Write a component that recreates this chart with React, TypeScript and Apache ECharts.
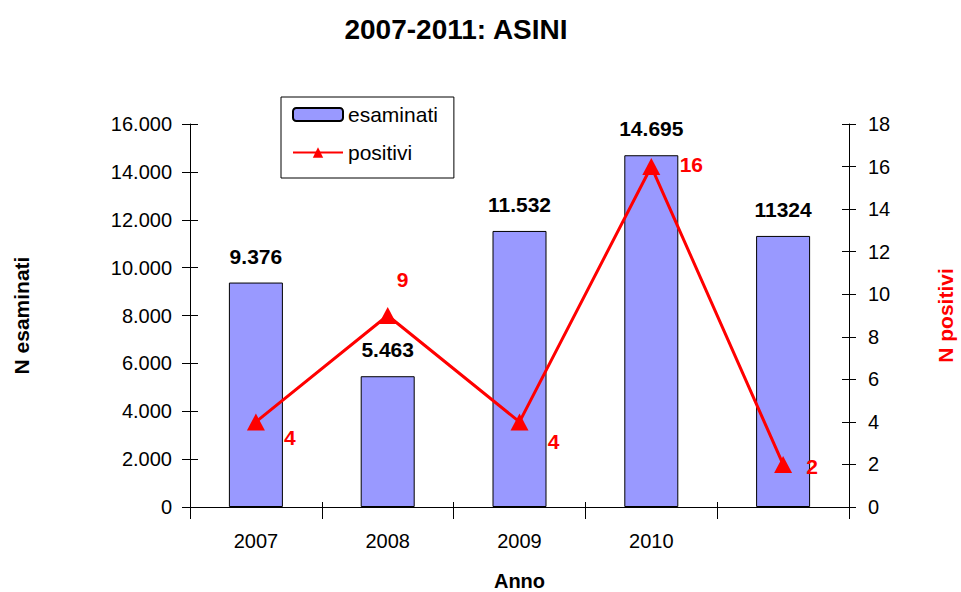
import React, { useEffect, useRef } from "react";
import * as echarts from "echarts";

const categories = ["2007", "2008", "2009", "2010", ""];
const esaminati = [9376, 5463, 11532, 14695, 11324];
const esaminatiLabels = ["9.376", "5.463", "11.532", "14.695", "11324"];
const positivi = [4, 9, 4, 16, 2];
const positiviOffsets = [[34, 16], [15, -36], [34, 20], [40, -2], [29, 2]];

function fmtThousands(v: number): string {
  return String(v).replace(/\B(?=(\d{3})+(?!\d))/g, ".");
}

export default function App() {
  const ref = useRef<HTMLDivElement>(null);
  useEffect(() => {
    if (!ref.current) return;
    const chart = echarts.init(ref.current, null, { renderer: "svg", width: 961, height: 592 });
    const font = "Liberation Sans, Arial, sans-serif";
    const black = "#000";
    chart.setOption({
      animation: false,
      backgroundColor: "#ffffff",
      textStyle: { fontFamily: font },
      title: {
        text: "2007-2011: ASINI",
        left: 451,
        top: 10,
        textAlign: "center",
        textStyle: { fontSize: 28, fontWeight: "bold", color: black, fontFamily: font },
      },
      legend: {
        orient: "vertical",
        left: 281,
        top: 97,
        borderColor: black,
        borderWidth: 1,
        padding: [7, 16, 15, 11],
        itemGap: 17,
        itemWidth: 50,
        itemHeight: 13,
        textStyle: { fontSize: 21, color: black, fontFamily: font },
        data: ["esaminati", "positivi"],
      },
      grid: { left: 190, right: 112, top: 124, bottom: 85, containLabel: false, outerBoundsMode: "none" },
      xAxis: [
        {
          type: "category",
          data: categories,
          name: "Anno",
          nameLocation: "middle",
          nameGap: 64,
          nameTextStyle: { fontSize: 20, lineHeight: 20, fontWeight: "bold", color: black, fontFamily: font },
          axisLine: { lineStyle: { color: black, width: 1 } },
          axisTick: { show: true, interval: 0, length: 12, lineStyle: { color: black } },
          axisLabel: { fontSize: 20, color: black, margin: 24, interval: 0, fontFamily: font },
        },
        {
          type: "category",
          data: categories,
          position: "bottom",
          axisLine: { show: false },
          axisTick: { show: true, inside: true, interval: 0, length: 5, lineStyle: { color: black } },
          axisLabel: { show: false },
        },
      ],
      yAxis: [
        {
          type: "value",
          min: 0,
          max: 16000,
          interval: 2000,
          position: "left",
          name: "N esaminati",
          nameLocation: "middle",
          nameGap: 158,
          nameRotate: 90,
          nameTextStyle: { fontSize: 21, fontWeight: "bold", color: black, fontFamily: font },
          axisLine: { show: true, lineStyle: { color: black } },
          axisTick: { show: true, length: 8, lineStyle: { color: black } },
          axisLabel: { fontSize: 20, color: black, margin: 18, formatter: (v: number) => fmtThousands(v), fontFamily: font },
          splitLine: { show: false },
        },
        {
          type: "value",
          min: 0,
          max: 18,
          interval: 2,
          position: "right",
          name: "N positivi",
          nameLocation: "middle",
          nameGap: 86,
          nameRotate: 90,
          nameTextStyle: { fontSize: 21, fontWeight: "bold", color: "#ff0000", fontFamily: font },
          axisLine: { show: true, lineStyle: { color: black } },
          axisTick: { show: true, length: 7, lineStyle: { color: black } },
          axisLabel: { fontSize: 20, color: black, margin: 19, fontFamily: font },
          splitLine: { show: false },
        },
        {
          type: "value",
          min: 0,
          max: 16000,
          interval: 2000,
          position: "left",
          axisLine: { show: false },
          axisTick: { show: true, inside: true, length: 8, lineStyle: { color: black } },
          axisLabel: { show: false },
          splitLine: { show: false },
        },
        {
          type: "value",
          min: 0,
          max: 18,
          interval: 2,
          position: "right",
          axisLine: { show: false },
          axisTick: { show: true, inside: true, length: 7, lineStyle: { color: black } },
          axisLabel: { show: false },
          splitLine: { show: false },
        },
      ],
      series: [
        {
          name: "esaminati",
          type: "bar",
          yAxisIndex: 0,
          data: esaminati,
          barWidth: 54,
          itemStyle: { color: "#9999ff", borderColor: black, borderWidth: 1 },
          label: {
            show: true,
            position: "top",
            distance: 16,
            fontSize: 21,
            fontWeight: "bold",
            color: black,
            fontFamily: font,
            formatter: (p: any) => esaminatiLabels[p.dataIndex],
          },
        },
        {
          name: "positivi",
          type: "line",
          yAxisIndex: 1,
          data: positivi.map((v, i) => ({
            value: v,
            label: { offset: positiviOffsets[i] },
          })),
          symbol: "triangle",
          symbolSize: [18, 17],
          lineStyle: { color: "#ff0000", width: 3 },
          itemStyle: { color: "#ff0000" },
          label: {
            show: true,
            position: "inside",
            fontSize: 21,
            fontWeight: "bold",
            color: "#ff0000",
            fontFamily: font,
          },
          z: 5,
        },
      ],
    });
    return () => chart.dispose();
  }, []);
  return (
    <div
      ref={ref}
      style={{ position: "fixed", left: 0, top: 0, width: 961, height: 592 }}
    />
  );
}
